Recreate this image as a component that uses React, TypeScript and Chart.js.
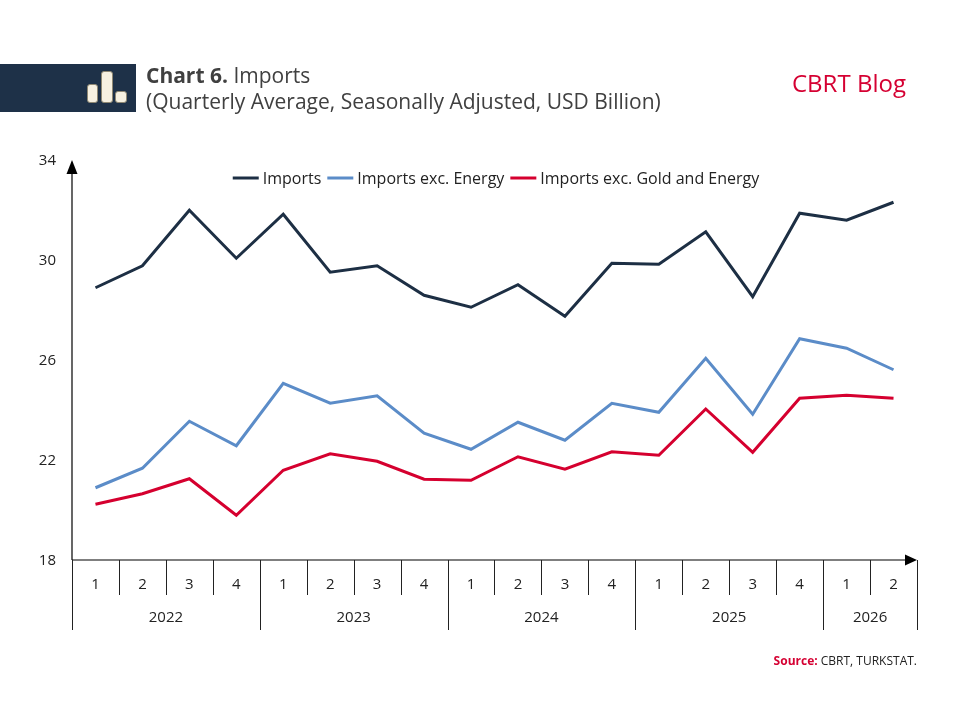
import React, { useEffect, useRef } from "react";
import { Chart, registerables } from "chart.js";

Chart.register(...registerables);

const quarters = ["1","2","3","4","1","2","3","4","1","2","3","4","1","2","3","4","1","2"];
const years = ["2022", "2023", "2024", "2025", "2026"];
const quartersPerYear = [4, 4, 4, 4, 2];
const imports = [28.89, 29.77, 31.99, 30.07, 31.83, 29.51, 29.77, 28.59, 28.11, 29.01, 27.75, 29.87, 29.83, 31.13, 28.53, 31.87, 31.59, 32.31];
const importsExEnergy = [20.89, 21.67, 23.55, 22.57, 25.07, 24.27, 24.57, 23.07, 22.43, 23.51, 22.79, 24.27, 23.91, 26.07, 23.83, 26.85, 26.47, 25.61];
const importsExGoldEnergy = [20.23, 20.65, 21.25, 19.79, 21.59, 22.25, 21.95, 21.23, 21.19, 22.13, 21.63, 22.33, 22.19, 24.04, 22.31, 24.47, 24.59, 24.47];
const yTicks = [18, 22, 26, 30, 34];
const seriesNames = ["Imports", "Imports exc. Energy", "Imports exc. Gold and Energy"];
const seriesColors = ["#1d2f44", "#5b8cc8", "#d5002f"];

const FONT = "'Open Sans', 'DejaVu Sans', sans-serif";

const axisPlugin = {
  id: "customAxes",
  afterDraw(chart: any) {
    const ctx = chart.ctx as CanvasRenderingContext2D;
    const xs = chart.scales.x;
    const ys = chart.scales.y;
    const area = chart.chartArea;
    const left = area.left;
    const right = area.right;
    const bottom = ys.getPixelForValue(yTicks[0]);
    const top = ys.getPixelForValue(yTicks[yTicks.length - 1]);
    const w = (xs.getPixelForValue(1) - xs.getPixelForValue(0));
    ctx.save();
    ctx.strokeStyle = "#000";
    ctx.fillStyle = "#000";
    ctx.lineWidth = 1.2;
    // y axis
    ctx.beginPath();
    ctx.moveTo(left, bottom);
    ctx.lineTo(left, top + 12);
    ctx.stroke();
    ctx.beginPath();
    ctx.moveTo(left, top);
    ctx.lineTo(left - 5.5, top + 14);
    ctx.lineTo(left + 5.5, top + 14);
    ctx.closePath();
    ctx.fill();
    // x axis
    ctx.beginPath();
    ctx.moveTo(left, bottom);
    ctx.lineTo(right - 12, bottom);
    ctx.stroke();
    ctx.beginPath();
    ctx.moveTo(right, bottom);
    ctx.lineTo(right - 12, bottom - 5.5);
    ctx.lineTo(right - 12, bottom + 5.5);
    ctx.closePath();
    ctx.fill();

    // dividers
    ctx.lineWidth = 1;
    ctx.strokeStyle = "#222";
    const boundaries: number[] = [];
    let acc = 0;
    quartersPerYear.forEach((n) => { acc += n; boundaries.push(acc); });
    for (let i = 0; i <= quarters.length; i++) {
      const x = Math.round(xs.getPixelForValue(0) - w / 2 + i * w) + 0.5;
      const isYear = i === 0 || boundaries.includes(i);
      ctx.beginPath();
      ctx.moveTo(x, bottom);
      ctx.lineTo(x, bottom + (isYear ? 70 : 35));
      ctx.stroke();
    }

    // y tick labels
    ctx.fillStyle = "#222";
    ctx.font = "15px " + FONT;
    ctx.textAlign = "right";
    ctx.textBaseline = "middle";
    yTicks.forEach((v) => {
      ctx.fillText(String(v), left - 16, ys.getPixelForValue(v) + 1);
    });

    // quarter labels
    ctx.textAlign = "center";
    quarters.forEach((q, i) => {
      ctx.fillText(q, xs.getPixelForValue(i), bottom + 25);
    });
    // year labels
    let start = 0;
    years.forEach((yr, k) => {
      const n = quartersPerYear[k];
      const x0 = xs.getPixelForValue(start) - w / 2;
      const x1 = xs.getPixelForValue(start + n - 1) + w / 2;
      ctx.fillText(yr, (x0 + x1) / 2, bottom + 58);
      start += n;
    });

    // legend
    ctx.font = "16px " + FONT;
    ctx.textAlign = "left";
    const lineLen = 26;
    const gapLineText = 4;
    const gapItems = 6;
    const widths = seriesNames.map((s) => lineLen + gapLineText + ctx.measureText(s).width);
    const total = widths.reduce((a, b) => a + b, 0) + gapItems * (seriesNames.length - 1);
    let lx = 496 - total / 2;
    const ly = 178;
    seriesNames.forEach((s, i) => {
      ctx.strokeStyle = seriesColors[i];
      ctx.lineWidth = 3;
      ctx.beginPath();
      ctx.moveTo(lx, ly);
      ctx.lineTo(lx + lineLen, ly);
      ctx.stroke();
      ctx.fillStyle = "#222";
      ctx.fillText(s, lx + lineLen + gapLineText, ly + 1);
      lx += widths[i] + gapItems;
    });
    ctx.restore();
  },
};

function Icon() {
  const bar = (x: number, y: number, w: number) => (
    <div
      style={{
        position: "absolute",
        left: x,
        top: y,
        width: w,
        height: 39 - y,
        background: "#f7f1e1",
        border: "1px solid #8f8873",
        borderRadius: 3,
        boxSizing: "border-box",
      }}
    />
  );
  return (
    <div style={{ position: "absolute", left: 0, top: 64, width: 136, height: 48, background: "#1e3148" }}>
      {bar(87, 20, 11)}
      {bar(101, 7, 12)}
      {bar(115, 27, 12)}
    </div>
  );
}

export default function App() {
  const canvasRef = useRef<HTMLCanvasElement | null>(null);

  useEffect(() => {
    document.body.style.margin = "0";
    const canvas = canvasRef.current;
    if (!canvas) return;
    const chart = new Chart(canvas, {
      type: "line",
      data: {
        labels: quarters.map((q, i) => `${i}-${q}`),
        datasets: [imports, importsExEnergy, importsExGoldEnergy].map((d, i) => ({
          label: seriesNames[i],
          data: d,
          borderColor: seriesColors[i],
          backgroundColor: seriesColors[i],
          borderWidth: 3,
          pointRadius: 0,
          tension: 0,
          fill: false,
        })),
      },
      options: {
        animation: false,
        responsive: false,
        maintainAspectRatio: false,
        layout: { padding: { left: 72, right: 43, top: 160, bottom: 160 } },
        plugins: { legend: { display: false }, tooltip: { enabled: false } },
        scales: {
          x: { type: "category", offset: true, display: false },
          y: { type: "linear", min: 18, max: 34, display: false },
        },
      },
      plugins: [axisPlugin],
    });
    return () => chart.destroy();
  }, []);

  return (
    <div style={{ position: "relative", width: 960, height: 720, background: "#fff", fontFamily: FONT }}>
      <canvas ref={canvasRef} width={960} height={720} style={{ position: "absolute", left: 0, top: 0, width: 960, height: 720 }} />
      <Icon />
      <div style={{ position: "absolute", left: 146, top: 62, color: "#404040", fontSize: 21, lineHeight: "26px", whiteSpace: "nowrap" }}>
        <div><b>Chart 6.</b> Imports</div>
        <div>(Quarterly Average, Seasonally Adjusted, USD Billion)</div>
      </div>
      <div style={{ position: "absolute", left: 792, top: 67, color: "#d50032", fontSize: 24, lineHeight: "32px", whiteSpace: "nowrap" }}>
        CBRT Blog
      </div>
      <div style={{ position: "absolute", right: 43, top: 652, color: "#222", fontSize: 12, lineHeight: "17px", whiteSpace: "nowrap" }}>
        <b style={{ color: "#d50032" }}>Source:</b> CBRT, TURKSTAT.
      </div>
    </div>
  );
}
